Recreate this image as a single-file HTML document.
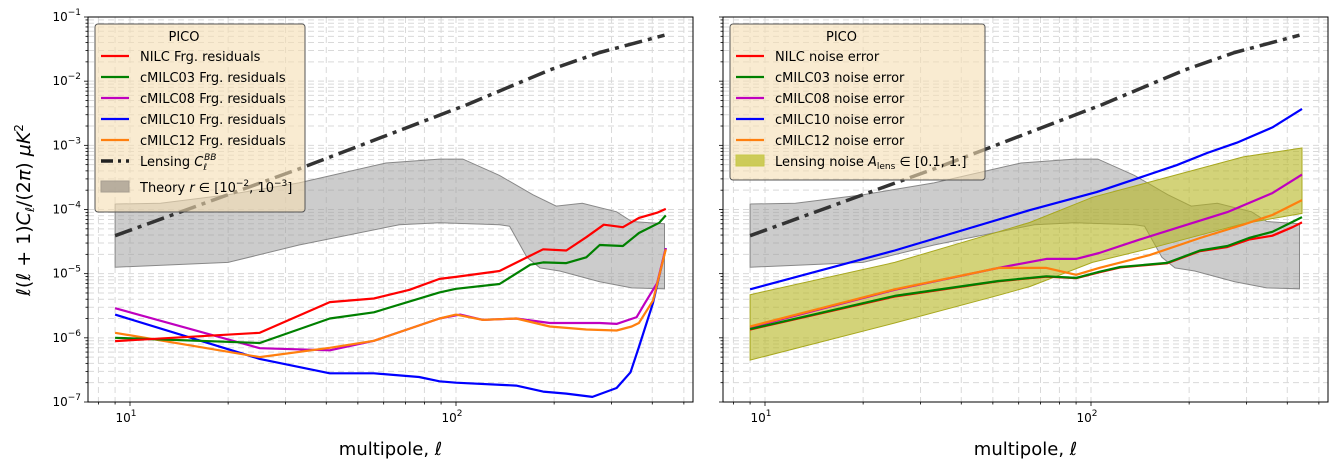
<!DOCTYPE html>
<html><head><meta charset="utf-8"><style>
body{margin:0;background:#fff;}
svg{display:block;font-family:"DejaVu Sans","Liberation Sans",sans-serif;}
</style></head><body>
<svg id="chart" width="1341" height="470" viewBox="0 0 1341 470" xmlns="http://www.w3.org/2000/svg"></svg>
<script>
// ---- data ----
const lensEll=[9,33,108,194,276,436];
const lensVal=[3.9e-5,4.3e-4,4.3e-3,1.5e-2,2.8e-2,5.2e-2];
const theoryUpEll=[9,12.4,20,33,61,89,105,136,172,203,244,311,346,436];
const theoryUpVal=[1.22e-4,1.25e-4,1.7e-4,2.6e-4,5.3e-4,6.1e-4,6.1e-4,3.4e-4,1.7e-4,1.13e-4,1.25e-4,9.2e-5,6.5e-5,6e-5];
const theoryLoEll=[9,20,33,67,89,136,146,165,181,208,276,346,436];
const theoryLoVal=[1.26e-5,1.5e-5,2.8e-5,5.8e-5,6.2e-5,5.8e-5,5.5e-5,1.8e-5,1.23e-5,1.1e-5,7.5e-6,6e-6,5.8e-6];
// left panel: foreground residuals
const nilcEll=[9,25,41,56,72,89,100,136,185,218,251,284,325,364,414,440];
const nilcVal=[8.9e-7,1.2e-6,3.6e-6,4.1e-6,5.6e-6,8.3e-6,8.9e-6,1.1e-5,2.4e-5,2.3e-5,3.7e-5,5.8e-5,5.3e-5,7.4e-5,8.9e-5,1.02e-4];
const m03Ell=[9,25,41,56,89,100,136,169,185,218,251,276,325,364,420,440];
const m03Val=[1e-6,8.3e-7,2e-6,2.5e-6,5.1e-6,5.8e-6,6.9e-6,1.38e-5,1.5e-5,1.46e-5,1.8e-5,2.8e-5,2.7e-5,4.3e-5,6.2e-5,8.1e-5];
const m08Ell=[9,25,41,56,89,103,121,153,194,276,311,358,380,414,440];
const m08Val=[2.9e-6,6.9e-7,6.4e-7,9e-7,2e-6,2.3e-6,1.9e-6,2e-6,1.7e-6,1.7e-6,1.65e-6,2.1e-6,3.5e-6,7.1e-6,2.5e-5];
const m12Ell=[9,25,41,56,89,100,121,153,194,251,311,346,364,402,440];
const m12Val=[1.2e-6,5e-7,7e-7,9e-7,2e-6,2.3e-6,1.9e-6,2e-6,1.5e-6,1.35e-6,1.3e-6,1.5e-6,1.7e-6,3.8e-6,2.4e-5];
const m10Ell=[9,25,41,56,77,89,100,153,185,218,262,311,343,364,402,440];
const m10Val=[2.3e-6,4.7e-7,2.8e-7,2.8e-7,2.45e-7,2.1e-7,2e-7,1.8e-7,1.45e-7,1.35e-7,1.2e-7,1.65e-7,2.9e-7,7.2e-7,3.5e-6,2.5e-5];
// right panel: noise errors
const lnUpEll=[9,25,52,65,101,148,293,444];
const lnUpVal=[4.7e-6,1.5e-5,4.5e-5,6.3e-5,1.55e-4,2.6e-4,6.6e-4,9.1e-4];
const lnLoEll=[9,25,52,65,101,148,293,444];
const lnLoVal=[4.5e-7,1.7e-6,4.6e-6,6.3e-6,1.5e-5,2.4e-5,6e-5,8.7e-5];
const nBlueEll=[9,25,65,104,183,227,280,360,444];
const nBlueVal=[5.7e-6,2.3e-5,9.8e-5,1.87e-4,4.9e-4,7.6e-4,1.1e-3,1.9e-3,3.7e-3];
const nMagEll=[9,25,52,73,90,106,141,197,262,360,444];
const nMagVal=[1.45e-6,5.6e-6,1.23e-5,1.7e-5,1.7e-5,2.1e-5,3.4e-5,5.8e-5,9.1e-5,1.8e-4,3.5e-4];
const nOraEll=[9,25,52,73,90,106,151,216,293,360,444];
const nOraVal=[1.5e-6,5.7e-6,1.23e-5,1.23e-5,9.6e-6,1.23e-5,1.94e-5,3.6e-5,5.8e-5,8.2e-5,1.4e-4];
const nGrnEll=[9,25,52,73,90,106,123,171,216,262,305,360,415,444];
const nGrnVal=[1.37e-6,4.5e-6,7.7e-6,9.1e-6,8.6e-6,1.07e-5,1.27e-5,1.47e-5,2.3e-5,2.7e-5,3.6e-5,4.5e-5,6.4e-5,7.6e-5];
const nRedEll=[9,25,52,73,90,106,123,171,216,262,305,360,415,444];
const nRedVal=[1.35e-6,4.4e-6,7.6e-6,9e-6,8.5e-6,1.05e-5,1.25e-5,1.45e-5,2.25e-5,2.6e-5,3.4e-5,3.9e-5,5.3e-5,6.3e-5];
const yTicks=[-7,-6,-5,-4,-3,-2,-1];
const xTicks=[1,2];

// ---- axes ----
const NS='http://www.w3.org/2000/svg';
const svg=document.getElementById('chart');
const Y0=17,Y1=402;
function yS(v){return Y0+(-1-Math.log10(v))*(Y1-Y0)/6;}
function mkX(x10){return function(l){return x10+(Math.log10(l)-1)*326;};}
function el(tag,attrs,parent){const e=document.createElementNS(NS,tag);for(const k in attrs)e.setAttribute(k,attrs[k]);(parent||svg).appendChild(e);return e;}
function pathOf(xs,vs,xf){return xs.map((l,i)=>(i?'L':'M')+xf(l).toFixed(1)+','+yS(vs[i]).toFixed(1)).join('');}

function panel(name,L,R,x10,showY){
  const xf=mkX(x10);
  const g=el('g',{});
  
  
  for(let d=-7;d<=-1;d++){for(let m=1;m<=9;m++){const v=m*Math.pow(10,d);if(d==-1&&m>1)break;const y=yS(v);
    if(y<Y0-0.5||y>Y1+0.5)continue;
    el('line',{x1:L,x2:R,y1:y,y2:y,stroke:'#d9d9d9','stroke-width':1,'stroke-dasharray':'6,4'},g);
    el('line',{x1:L-(m==1?4:2.5),x2:L,y1:y,y2:y,stroke:'#000','stroke-width':0.8},g);}}
  for(let d=0;d<=2;d++){for(let m=1;m<=9;m++){const l=m*Math.pow(10,d);const x=xf(l);if(x<L||x>R)continue;
    el('line',{x1:x,x2:x,y1:Y0,y2:Y1,stroke:'#d9d9d9','stroke-width':1,'stroke-dasharray':'6,4'},g);
    el('line',{x1:x,x2:x,y1:Y1,y2:Y1+(m==1?4:2.5),stroke:'#000','stroke-width':0.8},g);}}
  if(showY){yTicks.forEach(e=>{const t=el('text',{x:L-7,y:yS(Math.pow(10,e))+4,'text-anchor':'end','font-size':12},g);
    
    t.innerHTML='10<tspan dy="-6" font-size="9">−'+(-e)+'</tspan>';});}
  xTicks.forEach(e=>{const t=el('text',{x:xf(Math.pow(10,e))-4,y:Y1+20,'text-anchor':'middle','font-size':12},g);
    
    t.innerHTML='10<tspan dy="-6" font-size="9">'+e+'</tspan>';});
  const xl=el('text',{x:(L+R)/2,y:455,'text-anchor':'middle','font-size':18},g);
  
  xl.innerHTML='multipole, <tspan font-style="italic">ℓ</tspan>';
  return {g,xf};
}
function band(g,xf,ue,uv,le,lv,fill,op,stroke,name){
  const d=pathOf(ue,uv,xf)+pathOf(le.slice().reverse(),lv.slice().reverse(),xf).replace('M','L')+'Z';
  const p=el('path',{d:d,fill:fill,'fill-opacity':op,stroke:stroke,'stroke-width':1},g);
  
}
function line(g,xf,xs,vs,color,name,extra){
  const a={d:pathOf(xs,vs,xf),fill:'none',stroke:color,'stroke-width':2.2,'stroke-linejoin':'round'};
  if(extra)Object.assign(a,extra);
  const p=el('path',a,g);
}
function lens(g,xf){line(g,xf,lensEll,lensVal,'#333','lensing-line',{'stroke-width':3.5,'stroke-dasharray':'18,6,4,6'});}
function frame(g,L,R){const r=el('rect',{x:L,y:Y0,width:R-L,height:Y1-Y0,fill:'none',stroke:'#000','stroke-width':1},g);
  }

const P1=panel('left-panel',88,693,130,true);
band(P1.g,P1.xf,theoryUpEll,theoryUpVal,theoryLoEll,theoryLoVal,'#999',0.5,'#888','theory-band');
lens(P1.g,P1.xf);
line(P1.g,P1.xf,m10Ell,m10Val,'#0000ff','cmilc10-residual-line');
line(P1.g,P1.xf,m08Ell,m08Val,'#bf00bf','cmilc08-residual-line');
line(P1.g,P1.xf,m12Ell,m12Val,'#ff7f0e','cmilc12-residual-line');
line(P1.g,P1.xf,m03Ell,m03Val,'#008000','cmilc03-residual-line');
line(P1.g,P1.xf,nilcEll,nilcVal,'#ff0000','nilc-residual-line');
frame(P1.g,88,693);
const P2=panel('right-panel',723,1328,765,false);
band(P2.g,P2.xf,theoryUpEll,theoryUpVal,theoryLoEll,theoryLoVal,'#999',0.5,'#888','theory-band');
band(P2.g,P2.xf,lnUpEll,lnUpVal,lnLoEll,lnLoVal,'#b5b51f',0.6,'#a8a820','lensing-noise-band');
lens(P2.g,P2.xf);
line(P2.g,P2.xf,nBlueEll,nBlueVal,'#0000ff','cmilc10-noise-line');
line(P2.g,P2.xf,nMagEll,nMagVal,'#bf00bf','cmilc08-noise-line');
line(P2.g,P2.xf,nOraEll,nOraVal,'#ff7f0e','cmilc12-noise-line');
line(P2.g,P2.xf,nRedEll,nRedVal,'#ff0000','nilc-noise-line');
line(P2.g,P2.xf,nGrnEll,nGrnVal,'#008000','cmilc03-noise-line');
frame(P2.g,723,1328);

const yl=el('text',{transform:'translate(30,210) rotate(-90)','text-anchor':'middle','font-size':19});

yl.innerHTML='<tspan font-style="italic">ℓ</tspan>(<tspan font-style="italic">ℓ</tspan> + 1)<tspan font-style="italic">C</tspan><tspan font-size="12" dy="4" font-style="italic">ℓ</tspan><tspan dy="-4">/(2</tspan><tspan font-style="italic">π</tspan>)  <tspan font-style="italic">μK</tspan><tspan font-size="12" dy="-7">2</tspan>';

function legend(name,x,y,w,h,items){
  const g=el('g',{});
  el('rect',{x:x,y:y,width:w,height:h,rx:3,fill:'#f5deb3','fill-opacity':0.6,stroke:'#555','stroke-width':1},g);
  const t=el('text',{x:x+w/2-16,y:y+17,'text-anchor':'middle','font-size':13},g);t.textContent='PICO';
  
  items.forEach((it,i)=>{const yy=y+36+i*21+(it.extra||0);
    const e=el('g',{},g);
    if(it.type=='line')el('line',{x1:x+6,x2:x+34,y1:yy-4,y2:yy-4,stroke:it.c,'stroke-width':it.w||2.2,'stroke-dasharray':it.dash||'none'},e);
    else el('rect',{x:x+6,y:yy-10,width:28,height:11,fill:it.c,'fill-opacity':it.op||1,stroke:it.c},e);
    const tx=el('text',{x:x+45,y:yy+1,'font-size':13},e);tx.innerHTML=it.t;});
}
legend('left-legend',95,24,210,188,[
 {type:'line',c:'#ff0000',t:'NILC Frg. residuals'},
 {type:'line',c:'#008000',t:'cMILC03 Frg. residuals'},
 {type:'line',c:'#bf00bf',t:'cMILC08 Frg. residuals'},
 {type:'line',c:'#0000ff',t:'cMILC10 Frg. residuals'},
 {type:'line',c:'#ff7f0e',t:'cMILC12 Frg. residuals'},
 {type:'line',c:'#222',w:3.5,dash:'12,5,3,5',t:'Lensing <tspan font-style="italic">C</tspan><tspan font-size="9" dy="4" font-style="italic">ℓ</tspan><tspan font-size="9" dy="-10" dx="-3" font-style="italic">BB</tspan>'},
 {type:'rect',c:'#a89f91',op:0.8,extra:5,t:'Theory <tspan font-style="italic">r</tspan> ∈ [10<tspan font-size="9" dy="-6">−2</tspan><tspan dy="6">, 10</tspan><tspan font-size="9" dy="-6">−3</tspan><tspan dy="6">]</tspan>'}
]);
legend('right-legend',730,24,255,156,[
 {type:'line',c:'#ff0000',t:'NILC noise error'},
 {type:'line',c:'#008000',t:'cMILC03 noise error'},
 {type:'line',c:'#bf00bf',t:'cMILC08 noise error'},
 {type:'line',c:'#0000ff',t:'cMILC10 noise error'},
 {type:'line',c:'#ff7f0e',t:'cMILC12 noise error'},
 {type:'rect',c:'#c8c84a',op:0.9,t:'Lensing noise <tspan font-style="italic">A</tspan><tspan font-size="9" dy="3">lens</tspan><tspan dy="-3"> ∈ [0.1, 1.]</tspan>'}
]);
</script>
</body></html>
